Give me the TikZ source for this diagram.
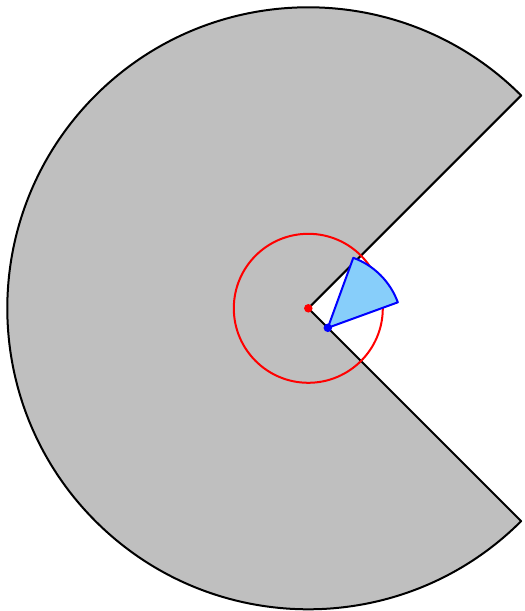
\documentclass[tikz,border=0pt]{standalone}
\usepackage{xcolor}
\usepackage{tikz}
\usetikzlibrary{calc}
\definecolor{Pac_Gray}{RGB}{191,191,191}
\definecolor{Wedge_Blue}{RGB}{135,206,250}

\begin{document}
\begin{tikzpicture}[
    x=0.02cm, y=0.02cm,
    body/.style={draw=black, line width=0.04cm, fill=Pac_Gray, line join=round},
    ring/.style={draw=red, line width=0.04cm},
    wedge/.style={draw=blue, line width=0.04cm, fill=Wedge_Blue, line join=round},
    dot/.style={circle, inner sep=0pt, minimum size=0.17cm}
]
\useasboundingbox (-308.3,-302.7) rectangle (215.7,308.3);

\coordinate (centre) at (0,0);
\coordinate (apex) at (-45:27.6);

% the big disc with its mouth cut out
\draw[body] (centre) -- (45:301) arc (45:315:301) -- cycle;

\draw[ring] (centre) circle (74.5);

% small sector from the second point
\draw[wedge] (apex) -- ++(20:74.5) arc (20:70:74.5) -- cycle;

\node[dot, fill=red] (c) at (centre) {};
\node[dot, fill=blue] (a) at (apex) {};

\end{tikzpicture}
\end{document}
